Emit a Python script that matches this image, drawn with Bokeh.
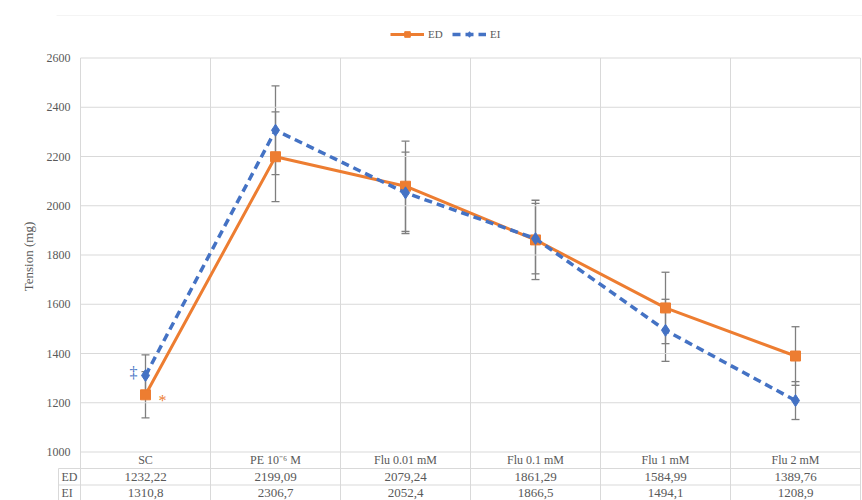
from bokeh.plotting import figure
from bokeh.models import (Range1d, FixedTicker, ColumnDataSource, Whisker, TeeHead,
                          Legend, LegendItem, BoxAnnotation)
from bokeh.core.properties import value
from bokeh.embed import file_html
from bokeh.resources import INLINE

# ---------------- data ----------------
categories = ["SC", "PE 10\u207b\u2076 M", "Flu 0.01 mM", "Flu 0.1 mM", "Flu 1 mM", "Flu 2 mM"]
ed_values = [1232.22, 2199.09, 2079.24, 1861.29, 1584.99, 1389.76]
ei_values = [1310.8, 2306.7, 2052.4, 1866.5, 1494.1, 1208.9]
ed_err = [94, 182, 183, 161, 145, 119]
ei_err = [84, 180, 165, 143, 126, 77]
y_ticks = [1000, 1200, 1400, 1600, 1800, 2000, 2200, 2400, 2600]
series_names = ["ED", "EI"]

# ---------------- geometry ----------------
W, H = 862, 500
frame_left_img, frame_top_img = 56, 12
cat_px = 130.0
cat0_img = 80.0
px_per_unit = 0.24625
y_base_img = 451.5
row_px = 16.5

x_start = (frame_left_img - cat0_img) / cat_px
x_end = (W - cat0_img) / cat_px
y_min_tick = y_ticks[0]
y_start = y_min_tick - (H - y_base_img) / px_per_unit
y_end = y_min_tick + (y_base_img - frame_top_img) / px_per_unit
row_h = row_px / px_per_unit
label_col_left = (58 - cat0_img) / cat_px
n = len(categories)

ED_COLOR = "#ED7D31"
EI_COLOR = "#4472C4"
GRID = "#D9D9D9"
TXT = "#595959"
FONT = "'Liberation Serif', 'Times New Roman', serif"

p = figure(width=W, height=H, output_backend="svg", toolbar_location=None,
           x_range=Range1d(x_start, x_end), y_range=Range1d(y_start, y_end),
           min_border_left=frame_left_img, min_border_top=frame_top_img,
           min_border_right=0, min_border_bottom=0, title=None)
p.outline_line_color = None
p.background_fill_color = "white"
p.border_fill_color = "white"
p.xgrid.visible = False
p.ygrid.visible = False
p.xaxis.visible = False

ax = p.yaxis[0]
ax.ticker = FixedTicker(ticks=y_ticks)
ax.axis_line_color = None
ax.major_tick_line_color = None
ax.minor_tick_line_color = None
ax.major_tick_out = 0
ax.major_tick_in = 0
ax.major_label_standoff = -(70 - frame_left_img)
ax.major_label_text_font = FONT
ax.major_label_text_font_size = "12px"
ax.major_label_text_color = TXT
ax.axis_label = "Tension (mg)"
ax.axis_label_text_font = FONT
ax.axis_label_text_font_style = "normal"
ax.axis_label_text_font_size = "13px"
ax.axis_label_text_color = TXT
ax.axis_label_standoff = 8

# outer chart border (top edge of the chart area)
p.add_layout(BoxAnnotation(left=(12 - cat0_img) / cat_px, right=x_end + 1,
                           bottom=y_start - 200,
                           top=y_min_tick + (y_base_img - 15) / px_per_unit,
                           fill_alpha=0, line_color=GRID, line_width=1))

# gridlines
p.segment(x0=[0] * len(y_ticks), y0=y_ticks, x1=[n] * len(y_ticks), y1=y_ticks,
          line_color=GRID, line_width=1)
bounds = list(range(n + 1))
p.segment(x0=bounds, y0=[y_start - 50] * len(bounds), x1=bounds, y1=[y_ticks[-1]] * len(bounds),
          line_color=GRID, line_width=1)
# data table lines
row_lines = [y_min_tick - row_h, y_min_tick - 2 * row_h]
p.segment(x0=[label_col_left] * 2, y0=row_lines, x1=[n] * 2, y1=row_lines,
          line_color=GRID, line_width=1)
p.segment(x0=[label_col_left], y0=[y_min_tick - row_h], x1=[label_col_left], y1=[y_start - 50],
          line_color=GRID, line_width=1)

xs = [i + 0.5 for i in range(n)]

# table text
p.text(x=xs, y=[y_min_tick - 0.5 * row_h] * n, text=categories, text_align="center",
       text_baseline="middle", text_font=value(FONT), text_font_size="12px", text_color=TXT)
fmt = lambda v: ("%g" % v).replace(".", ",")
p.text(x=xs, y=[y_min_tick - 1.5 * row_h] * n, text=[fmt(v) for v in ed_values],
       text_align="center", text_baseline="middle", text_font=value(FONT),
       text_font_size="13px", text_color=TXT)
p.text(x=xs, y=[y_min_tick - 2.5 * row_h] * n, text=[fmt(v) for v in ei_values],
       text_align="center", text_baseline="middle", text_font=value(FONT),
       text_font_size="13px", text_color=TXT)
p.text(x=[(61 - cat0_img) / cat_px] * 2, y=[y_min_tick - 1.5 * row_h, y_min_tick - 2.5 * row_h],
       text=series_names, text_align="left", text_baseline="middle", text_font=value(FONT),
       text_font_size="12px", text_color=TXT)

# error bars
ERR = "#7F7F7F"
for vals, errs in ((ed_values, ed_err), (ei_values, ei_err)):
    src = ColumnDataSource(dict(base=xs, upper=[v + e for v, e in zip(vals, errs)],
                                lower=[v - e for v, e in zip(vals, errs)]))
    p.add_layout(Whisker(source=src, base="base", upper="upper", lower="lower",
                         dimension="height", line_color=ERR, line_width=1.3,
                         upper_head=TeeHead(size=8, line_color=ERR, line_width=1.3),
                         lower_head=TeeHead(size=8, line_color=ERR, line_width=1.3)))

# series
ed_line = p.line(xs, ed_values, line_color=ED_COLOR, line_width=3)
ed_mark = p.scatter(xs, ed_values, marker="square", size=10, fill_color=ED_COLOR, line_color=ED_COLOR)
ei_line = p.line(xs, ei_values, line_color=EI_COLOR, line_width=3.5, line_dash="8 5")
ei_mark = p.scatter(xs, ei_values, marker="diamond", size=12, fill_color=EI_COLOR, line_color=EI_COLOR)

# significance marks
p.text(x=[xs[0]], y=[ei_values[0]], text=["\u2021"], x_offset=-12, y_offset=-3,
       text_align="center", text_baseline="middle", text_font=value(FONT),
       text_font_size="16px", text_color=EI_COLOR)
p.text(x=[xs[0]], y=[ed_values[0]], text=["*"], x_offset=17, y_offset=6,
       text_align="center", text_baseline="middle", text_font=value(FONT),
       text_font_size="16px", text_color=ED_COLOR)

legend = Legend(items=[LegendItem(label=series_names[0], renderers=[ed_line, ed_mark]),
                       LegendItem(label=series_names[1], renderers=[ei_line, ei_mark])],
                orientation="horizontal", location=(390 - frame_left_img, H - 41),
                glyph_width=34, glyph_height=14, label_standoff=4, spacing=4, padding=0,
                margin=0, border_line_color=None, background_fill_alpha=0,
                label_text_font=FONT, label_text_font_size="11px", label_text_color=TXT)
p.add_layout(legend)

open("out.html", "w").write(file_html(p, INLINE))
